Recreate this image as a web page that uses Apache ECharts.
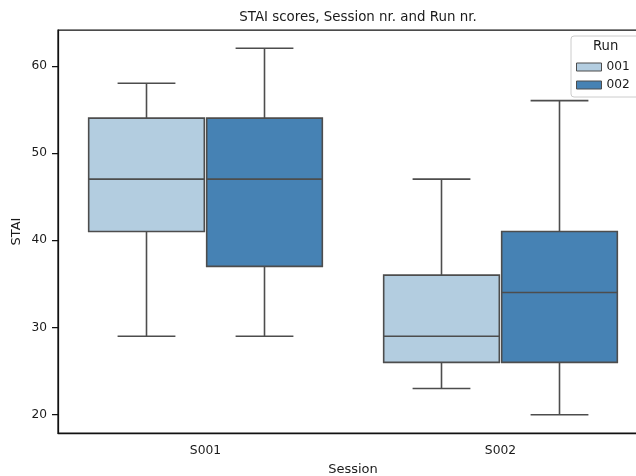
<!DOCTYPE html>
<html>
<head>
<meta charset="utf-8">
<script src="https://cdn.jsdelivr.net/npm/echarts@6/dist/echarts.min.js"></script>
<style>html,body{margin:0;padding:0;background:#fff}#c{width:636px;height:476px}</style>
</head>
<body>
<div id="c"></div>
<script>
// Data
const categories = ['S001', 'S002'];
const runNames = ['001', '002'];
// [min, Q1, median, Q3, max]
const run001 = [[29, 41, 47, 54, 58], [23, 26, 29, 36, 47]];
const run002 = [[29, 37, 47, 54, 62], [20, 26, 34, 41, 56]];
const yTicks = [20, 30, 40, 50, 60];

const colors = ['#b3cde0', '#4682b4'];
const edge = '#4d4d4d';
const FONT = 'DejaVu Sans';
const TXT = '#1a1a1a';

function makeRender(offsetFrac) {
  return function (params, api) {
    const cat = api.value(0);
    const band = api.size([1, 0])[0];
    const w = band * 0.392;
    const cx = api.coord([cat, 0])[0] + offsetFrac * band;
    const y = v => api.coord([cat, v])[1];
    const ymin = y(api.value(1)), yq1 = y(api.value(2)), ymed = y(api.value(3)),
          yq3 = y(api.value(4)), ymax = y(api.value(5));
    const ls = {stroke: edge, lineWidth: 1.6};
    const capW = w / 2;
    return {
      type: 'group',
      children: [
        {type: 'line', shape: {x1: cx, y1: yq1, x2: cx, y2: ymin}, style: ls},
        {type: 'line', shape: {x1: cx, y1: yq3, x2: cx, y2: ymax}, style: ls},
        {type: 'line', shape: {x1: cx - capW / 2, y1: ymin, x2: cx + capW / 2, y2: ymin}, style: ls},
        {type: 'line', shape: {x1: cx - capW / 2, y1: ymax, x2: cx + capW / 2, y2: ymax}, style: ls},
        {type: 'rect', shape: {x: cx - w / 2, y: yq3, width: w, height: yq1 - yq3},
          style: {fill: api.visual('color'), stroke: edge, lineWidth: 1.6}},
        {type: 'line', shape: {x1: cx - w / 2, y1: ymed, x2: cx + w / 2, y2: ymed}, style: ls}
      ]
    };
  };
}

function toData(arr) {
  return arr.map((d, i) => [i].concat(d));
}

const chart = echarts.init(document.getElementById('c'), null, {renderer: 'canvas'});
chart.setOption({
  animation: false,
  backgroundColor: '#fff',
  textStyle: {fontFamily: FONT},
  title: {
    text: 'STAI scores, Session nr. and Run nr.',
    left: 353, top: 6, textAlign: 'center',
    textStyle: {fontFamily: FONT, fontSize: 13.4, fontWeight: 'normal', color: TXT}
  },
  grid: {left: 58, width: 590, top: 30, height: 403, show: true, borderColor: '#111', borderWidth: 1.25,
    containLabel: false, outerBoundsMode: 'none'},
  legend: {
    data: runNames,
    orient: 'vertical',
    left: 571, top: 36,
    padding: [25, 40, 6, 5],
    itemWidth: 25, itemHeight: 8, itemGap: 6,
    icon: 'rect',
    backgroundColor: 'rgba(255,255,255,0.85)',
    borderColor: '#cccccc', borderWidth: 1, borderRadius: 3,
    itemStyle: {borderColor: edge, borderWidth: 1},
    textStyle: {fontFamily: FONT, fontSize: 12.2, color: TXT},
    z: 10
  },
  graphic: [{
    type: 'text', left: 593, top: 40, z: 100,
    style: {text: 'Run', font: '13.2px "DejaVu Sans"', fill: TXT}
  }],
  xAxis: {
    type: 'category', data: categories, boundaryGap: true,
    name: 'Session', nameLocation: 'middle', nameGap: 30, nameMoveOverlap: false,
    nameTextStyle: {fontFamily: FONT, fontSize: 13, color: TXT},
    axisLine: {lineStyle: {color: '#111', width: 1.25}},
    axisTick: {alignWithLabel: true, length: 6, lineStyle: {color: '#111', width: 1.25}},
    axisLabel: {fontFamily: FONT, fontSize: 12.3, color: TXT, margin: 12},
    splitLine: {show: false}
  },
  yAxis: {
    type: 'value', min: 17.9, max: 64.1,
    name: 'STAI', nameLocation: 'middle', nameGap: 35, nameMoveOverlap: false,
    nameTextStyle: {fontFamily: FONT, fontSize: 13, color: TXT},
    axisLine: {show: true, lineStyle: {color: '#111', width: 1.25}},
    axisTick: {show: true, length: 6, customValues: yTicks, lineStyle: {color: '#111', width: 1.25}},
    axisLabel: {fontFamily: FONT, fontSize: 12.2, color: TXT, margin: 11, customValues: yTicks},
    splitLine: {show: false}
  },
  series: [
    {name: runNames[0], type: 'custom', renderItem: makeRender(-0.2), data: toData(run001),
      itemStyle: {color: colors[0], borderColor: edge, borderWidth: 1},
      encode: {x: 0, y: [1, 2, 3, 4, 5]}, z: 2},
    {name: runNames[1], type: 'custom', renderItem: makeRender(0.2), data: toData(run002),
      itemStyle: {color: colors[1], borderColor: edge, borderWidth: 1},
      encode: {x: 0, y: [1, 2, 3, 4, 5]}, z: 2}
  ]
});
</script>
</body>
</html>
